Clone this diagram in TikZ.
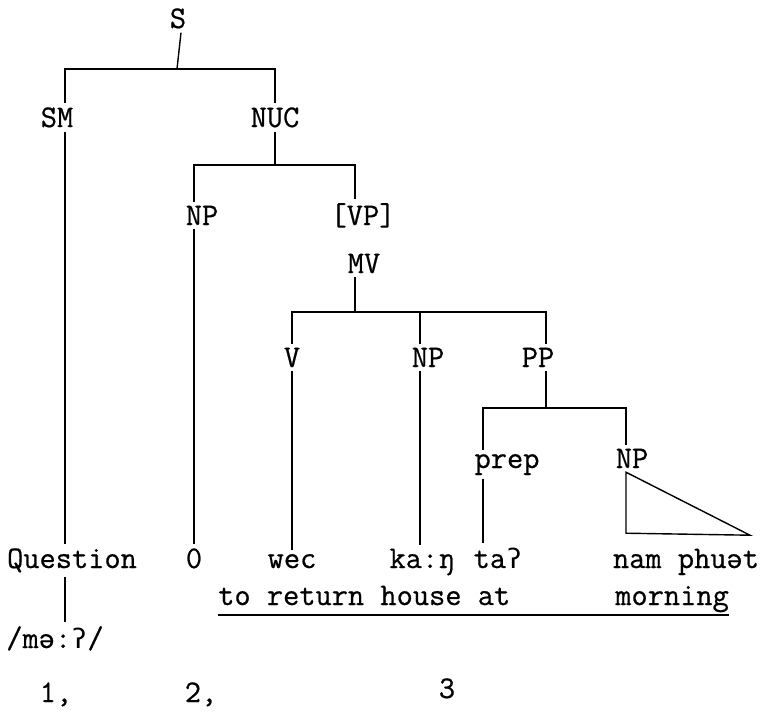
\documentclass[tikz,border=0pt]{standalone}
\usepackage{fontspec}
\newfontfamily\typewr[FakeBold=0.6]{Latin Modern Mono}
\newfontfamily\ipamono{DejaVu Sans Mono}
\newcommand{\glot}{{\ipamono\fontsize{27}{34}\selectfont ʔ}}
\usetikzlibrary{calc}

\begin{document}
\begin{tikzpicture}[
  x=1pt, y=-1pt, font=\typewr\fontsize{31.5}{34}\selectfont,
  lab/.style={anchor=base, inner xsep=2pt, inner ysep=4pt},
  br/.style={line width=1.4pt},
]
  \useasboundingbox (0,0) rectangle (762,716);

  \node[lab] (S)    at (178,28)  {S};
  \node[lab] (SM)   at (57,127)  {SM};
  \node[lab] (NUC)  at (275,127) {NUC};
  \node[lab] (NPa)  at (202,225) {NP};
  \node[lab] (VPa)  at (363,225) {[VP]};
  \node[lab] (MV)   at (364,273) {MV};
  \node[lab] (V)    at (292,367) {V};
  \node[lab] (NPb)  at (428,367) {NP};
  \node[lab] (PP)   at (538,367) {PP};
  \node[lab] (prep) at (507,468) {prep};
  \node[lab] (NPc)  at (632,468) {NP};

  \node[lab] (Question) at (72,568)  {Question};
  \node[lab] (zero)     at (194,568) {0};
  \node[lab] (wec)      at (292,568) {wec};
  \node[lab] (kang)     at (422,568) {ka:ŋ};
  \node[lab] (tag)      at (498,568) {ta\glot};
  \node[lab] (namph)    at (686,568) {nam phuət};
  \node[lab, anchor=base west, inner xsep=0pt] (glossa) at (218,605)
       {to return house at};
  \node[lab, anchor=base east, inner xsep=0pt] (glossb) at (729,605)
       {morning};
  \node[lab] (qipa) at (55,648)  {/mə:\glot/};
  \node[lab] (n1)   at (56,702)  {1,};
  \node[lab] (n2)   at (201,702) {2,};
  \node[lab] (n3)   at (447,698) {3};

  \coordinate (sbar) at (177,69);
  \coordinate (nbar) at (275,165);
  \coordinate (mbar) at (355,312);
  \coordinate (pbar) at (546,408);

  \draw[br] ([xshift=3pt]S.south) -- (sbar);
  \draw[br] ([xshift=8pt]SM.north) |- (sbar) -| (NUC.north);
  \draw[br] ([xshift=8pt]SM.south) -- ([xshift=8pt]SM.south |- Question.north);
  \draw[br] ([xshift=-7pt]Question.south) -- ([xshift=-7pt]Question.south |- qipa.north);

  \draw[br] (NUC.south) -- (nbar);
  \draw[br] ([xshift=-8pt]NPa.north) |- (nbar) -| ([xshift=-8pt]VPa.north);
  \draw[br] ([xshift=-8pt]NPa.south) -- (zero.north);

  \draw[br] ([xshift=-9pt]MV.south) -- (mbar);
  \draw[br] (V.north) |- (mbar) -| ([xshift=8pt]PP.north);
  \draw[br] ([xshift=-8pt]NPb.north) -- ([xshift=-8pt]NPb.north |- mbar);
  \draw[br] (V.south) -- (wec.north);
  \draw[br] ([xshift=-8pt]NPb.south) -- ([xshift=-8pt]NPb.south |- kang.north);

  \draw[br] ([xshift=8pt]PP.south) -- (pbar);
  \draw[br] ([xshift=-24pt]prep.north) |- (pbar) -| ([xshift=-6pt]NPc.north);
  \draw[br] ([xshift=-24pt]prep.south) -- ([xshift=-24pt]prep.south |- tag.north);
  \draw[br] ([xshift=-6pt]NPc.south) -- ++(0,61) -- ++(124,2) -- cycle;

  \draw[br] ([yshift=-10pt]glossa.base west) -- ([yshift=-10pt]glossb.base east);
\end{tikzpicture}
\end{document}
